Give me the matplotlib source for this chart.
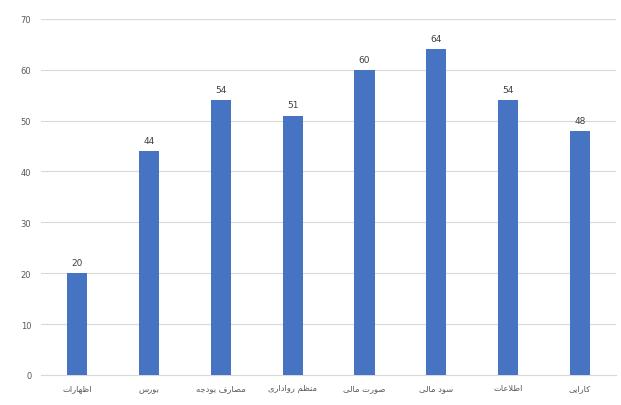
import matplotlib
matplotlib.use("Agg")
import matplotlib.pyplot as plt

categories = ["اظهارات", "بورس", "مصارف بودجه", "منظم رواداری", "صورت مالی", "سود مالی", "اطلاعات", "کارایی"]
values = [20, 44, 54, 51, 60, 64, 54, 48]
yticks = [0, 10, 20, 30, 40, 50, 60, 70]

# minimal Arabic/Persian shaping (presentation forms) + RTL reversal
FORMS = {
    'ا': (0xFE8D, 0xFE8E, None, None), 'ب': (0xFE8F, 0xFE90, 0xFE91, 0xFE92),
    'ت': (0xFE95, 0xFE96, 0xFE97, 0xFE98), 'ج': (0xFE9D, 0xFE9E, 0xFE9F, 0xFEA0),
    'ح': (0xFEA1, 0xFEA2, 0xFEA3, 0xFEA4), 'خ': (0xFEA5, 0xFEA6, 0xFEA7, 0xFEA8),
    'د': (0xFEA9, 0xFEAA, None, None), 'ذ': (0xFEAB, 0xFEAC, None, None),
    'ر': (0xFEAD, 0xFEAE, None, None), 'ز': (0xFEAF, 0xFEB0, None, None),
    'س': (0xFEB1, 0xFEB2, 0xFEB3, 0xFEB4), 'ش': (0xFEB5, 0xFEB6, 0xFEB7, 0xFEB8),
    'ص': (0xFEB9, 0xFEBA, 0xFEBB, 0xFEBC), 'ط': (0xFEC1, 0xFEC2, 0xFEC3, 0xFEC4),
    'ظ': (0xFEC5, 0xFEC6, 0xFEC7, 0xFEC8), 'ع': (0xFEC9, 0xFECA, 0xFECB, 0xFECC),
    'ف': (0xFED1, 0xFED2, 0xFED3, 0xFED4), 'ق': (0xFED5, 0xFED6, 0xFED7, 0xFED8),
    'ل': (0xFEDD, 0xFEDE, 0xFEDF, 0xFEE0), 'م': (0xFEE1, 0xFEE2, 0xFEE3, 0xFEE4),
    'ن': (0xFEE5, 0xFEE6, 0xFEE7, 0xFEE8), 'ه': (0xFEE9, 0xFEEA, 0xFEEB, 0xFEEC),
    'و': (0xFEED, 0xFEEE, None, None), 'ی': (0xFBFC, 0xFBFD, 0xFBFE, 0xFBFF),
    'ک': (0xFB8E, 0xFB8F, 0xFB90, 0xFB91),
}

def shape(word):
    chars = list(word)
    tokens = []
    i = 0
    while i < len(chars):
        if chars[i] == 'ل' and i + 1 < len(chars) and chars[i + 1] == 'ا':
            tokens.append('LA')
            i += 2
        else:
            tokens.append(chars[i])
            i += 1

    def joins_left(t):
        if t == 'LA':
            return False
        f = FORMS.get(t)
        return f is not None and f[2] is not None

    def joins_right(t):
        return t == 'LA' or t in FORMS

    out = []
    for k, t in enumerate(tokens):
        prev_j = k > 0 and joins_left(tokens[k - 1]) and joins_right(t)
        next_j = k + 1 < len(tokens) and joins_left(t) and joins_right(tokens[k + 1])
        if t == 'LA':
            out.append(chr(0xFEFC if (k > 0 and joins_left(tokens[k - 1])) else 0xFEFB))
            continue
        f = FORMS.get(t)
        if f is None:
            out.append(t)
            continue
        if prev_j and next_j:
            out.append(chr(f[3]))
        elif prev_j:
            out.append(chr(f[1]))
        elif next_j:
            out.append(chr(f[2]))
        else:
            out.append(chr(f[0]))
    return ''.join(out)

def rtl(text):
    words = text.split(' ')
    return ' '.join(shape(w)[::-1] for w in reversed(words))

fig = plt.figure(figsize=(6.21, 4.06), dpi=100)
ax = fig.add_axes([0.066, 0.074, 0.926, 0.877])

x = list(range(len(categories)))
ax.bar(x, values, width=0.28, color="#4674C3", zorder=3)
for xi, v in zip(x, values):
    ax.text(xi, v + 1.2, str(v), ha="center", va="bottom", fontsize=6.5, color="#404040")

ax.set_ylim(0, 70)
ax.set_xlim(-0.5, len(categories) - 0.5)
ax.set_yticks(yticks)
ax.set_yticklabels([str(t) for t in yticks])
ax.set_xticks(x)
ax.set_xticklabels([rtl(c) for c in categories], family=["DejaVu Sans"])
ax.tick_params(axis="both", length=0, labelsize=6, colors="#595959")
ax.tick_params(axis="x", pad=6)
ax.tick_params(axis="y", pad=7)
ax.grid(axis="y", color="#D9D9D9", linewidth=0.8, zorder=0)
for s in ["top", "right", "left"]:
    ax.spines[s].set_visible(False)
ax.spines["bottom"].set_color("#D9D9D9")

fig.savefig("out.png", dpi=100, facecolor="white")
